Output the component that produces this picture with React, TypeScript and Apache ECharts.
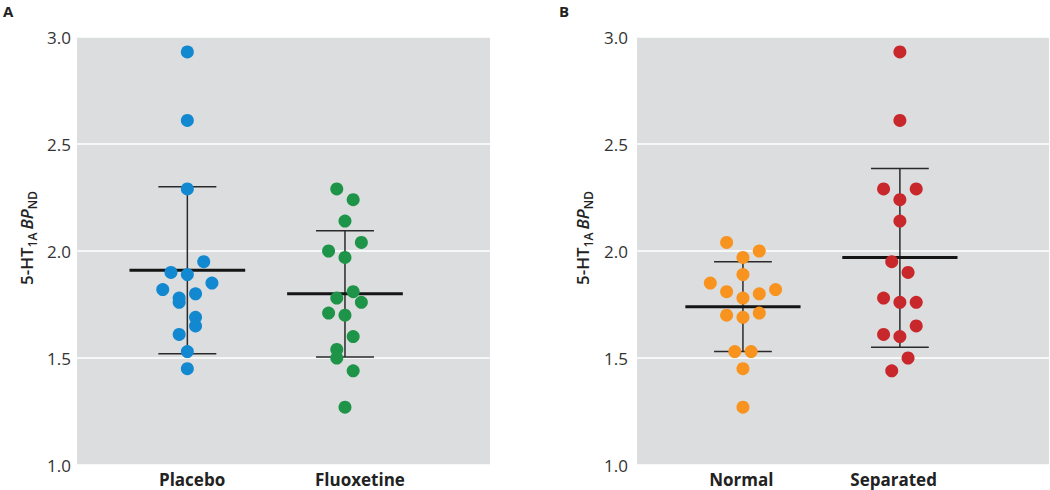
import React, { useEffect, useRef } from "react";
import * as echarts from "echarts";

// ---- data ----
const panelACategories = ["Placebo", "Fluoxetine"];
const panelBCategories = ["Normal", "Separated"];

const placeboValues = [2.93, 2.61, 2.29, 1.95, 1.9, 1.89, 1.85, 1.82, 1.8, 1.78, 1.76, 1.69, 1.65, 1.61, 1.53, 1.45];
const placeboLanes = [0, 0, 0, 2, -2, 0, 3, -3, 1, -1, -1, 1, 1, -1, 0, 0];

const fluoxetineValues = [2.29, 2.24, 2.14, 2.04, 2.0, 1.97, 1.81, 1.78, 1.76, 1.71, 1.7, 1.6, 1.54, 1.5, 1.44, 1.27];
const fluoxetineLanes = [-1, 1, 0, 2, -2, 0, 1, -1, 2, -2, 0, 1, -1, -1, 1, 0];

const normalValues = [2.04, 2.0, 1.97, 1.89, 1.85, 1.82, 1.81, 1.8, 1.78, 1.71, 1.7, 1.69, 1.53, 1.53, 1.45, 1.27];
const normalLanes = [-2, 2, 0, 0, -4, 4, -2, 2, 0, 2, -2, 0, -1, 1, 0, 0];

const separatedValues = [2.93, 2.61, 2.29, 2.29, 2.24, 2.14, 1.95, 1.9, 1.78, 1.76, 1.76, 1.65, 1.61, 1.6, 1.5, 1.44];
const separatedLanes = [0, 0, -2, 2, 0, 0, -1, 1, -2, 0, 2, 2, -2, 0, 1, -1];

// mean, lower and upper bar per group: Placebo, Fluoxetine, Normal, Separated
const groupMeans = [1.91, 1.8, 1.74, 1.97];
const groupLower = [1.52, 1.505, 1.53, 1.55];
const groupUpper = [2.3, 2.095, 1.95, 2.385];

const yTicks = [1.0, 1.5, 2.0, 2.5, 3.0];

// ---- presentation ----
const LANE_STEP = 0.052;
const FONT = "'Open Sans', 'Noto Sans', sans-serif";
const COLORS = ["#1188d0", "#1e9448", "#f7931e", "#c8282b"];

function points(values: number[], lanes: number[], center: number) {
  return values.map((v, i) => [center + lanes[i] * LANE_STEP, v]);
}

const yAxisName = "{main|5-HT}{sub|1A} {it|BP}{sub|ND}";
const yNameRich = {
  main: { fontSize: 17, fontFamily: FONT, fontWeight: 600, color: "#222", verticalAlign: "middle", lineHeight: 22 },
  it: { fontSize: 17, fontFamily: FONT, fontWeight: 600, fontStyle: "italic", color: "#222", verticalAlign: "middle", lineHeight: 22 },
  sub: { fontSize: 12, fontFamily: FONT, fontWeight: 600, color: "#222", verticalAlign: "bottom", lineHeight: 22, padding: [0, 0, -1, 0] },
};

function makeYAxis(gridIndex: number, nameGap: number, labelMargin: number) {
  return {
    type: "value",
    gridIndex,
    min: yTicks[0],
    max: yTicks[yTicks.length - 1],
    interval: 0.5,
    axisLine: { show: false },
    axisTick: { show: false },
    axisLabel: {
      fontSize: 17,
      fontFamily: FONT,
      color: "#333",
      margin: labelMargin,
      formatter: (v: number) => v.toFixed(1),
    },
    splitLine: { show: true, lineStyle: { color: "#ffffff", width: 1.5 } },
    name: yAxisName,
    nameLocation: "middle",
    nameRotate: 90,
    nameGap,
    nameTextStyle: { rich: yNameRich, padding: [0, 0, 0, 26] },
  };
}

function makeXAxis(gridIndex: number, min: number, max: number, names: string[], labelPos: number[]) {
  return {
    type: "value",
    gridIndex,
    min,
    max,
    axisLine: { show: false },
    axisTick: { show: false },
    splitLine: { show: false },
    axisLabel: {
      customValues: labelPos,
      fontSize: 17,
      lineHeight: 17,
      fontWeight: "bold",
      fontFamily: FONT,
      color: "#222",
      margin: 6,
      formatter: (v: number) => {
        const idx = labelPos.findIndex((p) => Math.abs(p - v) < 1e-6);
        return idx >= 0 ? names[idx] : "";
      },
    },
  };
}

function errorSeries(axisIndex: number, startGroup: number) {
  const data = [0, 1].map((k) => [
    k + 1,
    groupMeans[startGroup + k],
    groupLower[startGroup + k],
    groupUpper[startGroup + k],
  ]);
  return {
    type: "custom",
    xAxisIndex: axisIndex,
    yAxisIndex: axisIndex,
    z: 2,
    silent: true,
    data,
    renderItem: (params: any, api: any) => {
      const x = api.value(0);
      const pm = api.coord([x, api.value(1)]);
      const pl = api.coord([x, api.value(2)]);
      const ph = api.coord([x, api.value(3)]);
      const unit = api.size([1, 0])[0];
      const meanHalf = 0.367 * unit;
      const capHalf = 0.184 * unit;
      const thin = { stroke: "#2a2a2a", lineWidth: 1.5 };
      return {
        type: "group",
        children: [
          { type: "line", shape: { x1: pl[0], y1: pl[1], x2: ph[0], y2: ph[1] }, style: thin },
          { type: "line", shape: { x1: pl[0] - capHalf, y1: pl[1], x2: pl[0] + capHalf, y2: pl[1] }, style: thin },
          { type: "line", shape: { x1: ph[0] - capHalf, y1: ph[1], x2: ph[0] + capHalf, y2: ph[1] }, style: thin },
          {
            type: "line",
            shape: { x1: pm[0] - meanHalf, y1: pm[1], x2: pm[0] + meanHalf, y2: pm[1] },
            style: { stroke: "#151515", lineWidth: 3 },
          },
        ],
      };
    },
  };
}

function scatterSeries(axisIndex: number, data: number[][], color: string) {
  return {
    type: "scatter",
    xAxisIndex: axisIndex,
    yAxisIndex: axisIndex,
    z: 3,
    symbol: "circle",
    symbolSize: 13,
    itemStyle: { color, opacity: 1 },
    data,
  };
}

export default function App() {
  const ref = useRef<HTMLDivElement>(null);

  useEffect(() => {
    if (!ref.current) return;
    const chart = echarts.init(ref.current, null, { renderer: "svg" });
    const option: any = {
      animation: false,
      backgroundColor: "#ffffff",
      textStyle: { fontFamily: FONT },
      grid: [
        { left: 77, top: 37, width: 413, bottom: 25, show: true, backgroundColor: "#dcdddf", borderWidth: 0 },
        { left: 637, top: 37, width: 412, bottom: 25, show: true, backgroundColor: "#dcdddf", borderWidth: 0 },
      ],
      xAxis: [
        makeXAxis(0, 0.3, 2.92, panelACategories, [1.03, 2.095]),
        makeXAxis(1, 0.325, 2.95, panelBCategories, [0.99, 1.96]),
      ],
      yAxis: [makeYAxis(0, 40, 6), makeYAxis(1, 44, 9)],
      graphic: [
        { type: "text", left: 3, top: 3, style: { text: "A", fontSize: 15, fontWeight: "bold", fontFamily: FONT, fill: "#222" } },
        { type: "text", left: 559, top: 3, style: { text: "B", fontSize: 15, fontWeight: "bold", fontFamily: FONT, fill: "#222" } },
      ],
      series: [
        errorSeries(0, 0),
        errorSeries(1, 2),
        scatterSeries(0, points(placeboValues, placeboLanes, 1), COLORS[0]),
        scatterSeries(0, points(fluoxetineValues, fluoxetineLanes, 2), COLORS[1]),
        scatterSeries(1, points(normalValues, normalLanes, 1), COLORS[2]),
        scatterSeries(1, points(separatedValues, separatedLanes, 2), COLORS[3]),
      ],
    };
    chart.setOption(option);
    return () => chart.dispose();
  }, []);

  return <div ref={ref} style={{ position: "fixed", left: 0, top: 0, width: 1050, height: 490 }} />;
}
